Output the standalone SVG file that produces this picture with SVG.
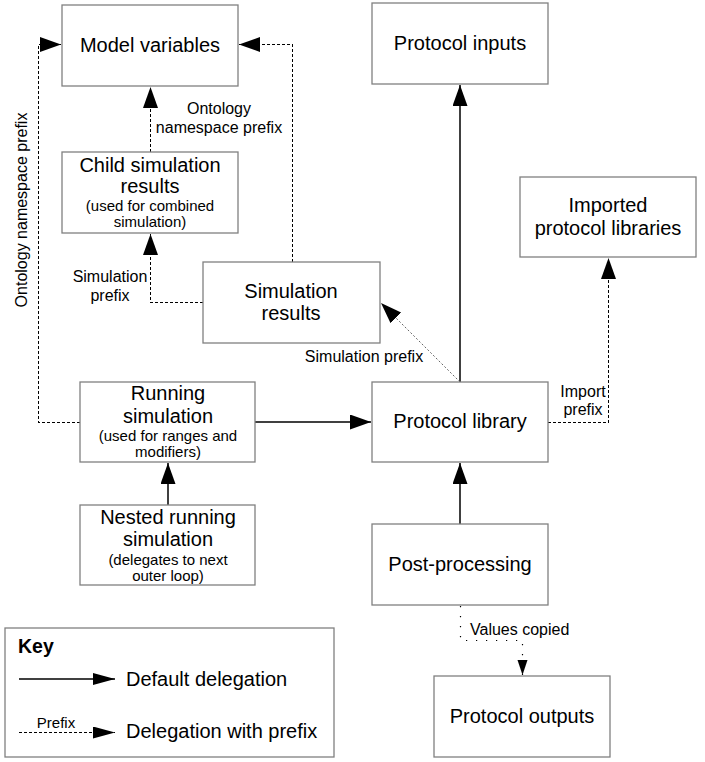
<svg xmlns="http://www.w3.org/2000/svg" width="705" height="762" viewBox="0 0 705 762">
<style>
.box{fill:#fff;stroke:#808080;stroke-width:1.3}
text{font-family:"Liberation Sans",Arial,sans-serif;fill:#000}
.t{font-size:20px;text-anchor:middle}
.s{font-size:15px;text-anchor:middle}
.l{font-size:16px;text-anchor:middle}
.solid{fill:none;stroke:#000;stroke-width:1.5}
.dash{fill:none;stroke:#000;stroke-width:1;stroke-dasharray:3,2;shape-rendering:crispEdges}
.fine{fill:none;stroke:#555;stroke-width:0.9;stroke-dasharray:2,2}
.dot{fill:none;stroke:#000;stroke-width:1.2;stroke-dasharray:1.2,8.8}
</style>
<defs>
<marker id="ah" markerUnits="userSpaceOnUse" markerWidth="22" markerHeight="16" refX="21" refY="7.5" orient="auto"><path d="M0,0 L21,7.5 L0,15 z" fill="#000"/></marker>
<marker id="ahs" markerUnits="userSpaceOnUse" markerWidth="16" markerHeight="11" refX="15" refY="5" orient="auto"><path d="M0,0 L15,5 L0,10 z" fill="#000"/></marker>
<marker id="ahk" markerUnits="userSpaceOnUse" markerWidth="23" markerHeight="13" refX="22" refY="6" orient="auto"><path d="M0,0 L22,6 L0,12 z" fill="#000"/></marker>
</defs>

<g id="connectors">
<path class="dash" d="M80,422.5 H38.5 V44.5 H61" marker-end="url(#ah)"/>
<path class="dash" d="M292.5,262 V44.5 H239" marker-end="url(#ah)"/>
<path class="dash" d="M150.5,152 V87" marker-end="url(#ah)"/>
<path class="dash" d="M203,302.5 H150.5 V234" marker-end="url(#ah)"/>
<path class="solid" d="M168,505 V463" marker-end="url(#ah)"/>
<path class="solid" d="M255,422 H371" marker-end="url(#ah)"/>
<path class="solid" d="M460,382 V85" marker-end="url(#ah)"/>
<path class="solid" d="M460,524 V463" marker-end="url(#ah)"/>
<path class="fine" d="M460,382 L381,303" marker-end="url(#ah)"/>
<path class="dash" d="M548,422.5 H608.5 V258" marker-end="url(#ah)"/>
<path class="dot" d="M460.5,606 V640.5 H522.5 V675" marker-end="url(#ahs)"/>
<text class="l" x="219" y="114">Ontology</text>
<text class="l" x="219" y="133">namespace prefix</text>
<text class="l" transform="translate(27,210) rotate(-90)">Ontology namespace prefix</text>
<text class="l" x="110" y="282">Simulation</text>
<text class="l" x="110" y="301">prefix</text>
<text class="l" x="364" y="362">Simulation prefix</text>
<text class="l" x="583" y="397">Import</text>
<text class="l" x="583" y="415">prefix</text>
<text class="l" x="470" y="635" style="text-anchor:start">Values copied</text>
</g>

<g id="model-variables">
<rect class="box" x="62" y="5" width="176" height="81"/>
<text class="t" x="150" y="52">Model variables</text>
</g>
<g id="child-simulation-results">
<rect class="box" x="62" y="152" width="176" height="81"/>
<text class="t" x="150" y="172">Child simulation</text>
<text class="t" x="150" y="193">results</text>
<text class="s" x="150" y="211">(used for combined</text>
<text class="s" x="150" y="227">simulation)</text>
</g>
<g id="simulation-results">
<rect class="box" x="203" y="262" width="177" height="81"/>
<text class="t" x="291" y="298">Simulation</text>
<text class="t" x="291" y="320">results</text>
</g>
<g id="running-simulation">
<rect class="box" x="80" y="382" width="175" height="80"/>
<text class="t" x="168" y="400">Running</text>
<text class="t" x="168" y="423">simulation</text>
<text class="s" x="168" y="441">(used for ranges and</text>
<text class="s" x="168" y="457">modifiers)</text>
</g>
<g id="nested-running-simulation">
<rect class="box" x="80" y="505" width="175" height="80"/>
<text class="t" x="168" y="524">Nested running</text>
<text class="t" x="168" y="546">simulation</text>
<text class="s" x="168" y="565">(delegates to next</text>
<text class="s" x="168" y="581">outer loop)</text>
</g>
<g id="protocol-inputs">
<rect class="box" x="372" y="3" width="176" height="81"/>
<text class="t" x="460" y="50">Protocol inputs</text>
</g>
<g id="imported-protocol-libraries">
<rect class="box" x="520" y="177" width="176" height="80"/>
<text class="t" x="608" y="212">Imported</text>
<text class="t" x="608" y="235">protocol libraries</text>
</g>
<g id="protocol-library">
<rect class="box" x="372" y="382" width="176" height="80"/>
<text class="t" x="460" y="428">Protocol library</text>
</g>
<g id="post-processing">
<rect class="box" x="372" y="524" width="176" height="81"/>
<text class="t" x="460" y="571">Post-processing</text>
</g>
<g id="protocol-outputs">
<rect class="box" x="434" y="676" width="176" height="81"/>
<text class="t" x="522" y="723">Protocol outputs</text>
</g>
<g id="key">
<rect class="box" x="5" y="628" width="329" height="129"/>
<text x="18" y="653" style="font-size:19.5px;font-weight:bold">Key</text>
<path class="solid" d="M19,679 H115" marker-end="url(#ahk)"/>
<text x="126" y="686" style="font-size:20px">Default delegation</text>
<path class="dash" d="M19,732.5 H115" marker-end="url(#ahk)"/>
<text class="l" x="56" y="728" style="font-size:15px">Prefix</text>
<text x="126" y="738" style="font-size:20px">Delegation with prefix</text>
</g>
</svg>
